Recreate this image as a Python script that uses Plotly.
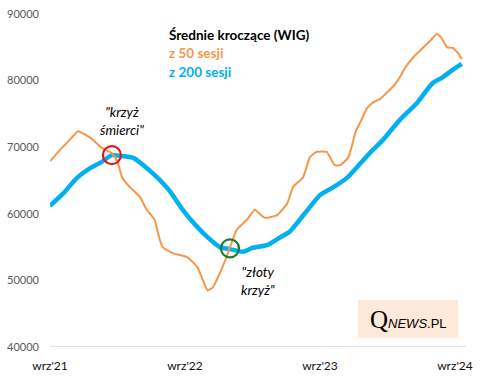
import plotly.graph_objects as go

# months since wrz'21 (Sept 2021)
months_50 = [0.0, 0.9, 1.7, 2.5, 3.0, 3.6, 4.6, 5.5, 6.0, 6.4, 7.1, 8.0, 8.6, 9.3, 9.6, 10.0,
             10.9, 12.2, 13.1, 13.6, 14.0, 14.5, 15.1, 15.6, 16.0, 16.6, 17.5, 18.2, 19.1,
             20.2, 21.1, 21.6, 22.5, 23.1, 23.7, 24.6, 25.3, 25.8, 26.5, 26.9, 27.2, 27.6,
             28.2, 28.8, 29.4, 30.0, 30.6, 31.2, 31.6, 32.3, 33.2, 33.8, 34.4, 34.8, 35.3,
             35.8, 36.3, 36.6]
wig_50 = [67900, 69600, 71000, 72400, 72000, 71400, 69900, 69100, 67800, 65500, 64000, 62500,
          60600, 59100, 57100, 55000, 54100, 53500, 52000, 50000, 48500, 49000, 51100, 53100,
          55000, 57600, 59100, 60600, 59400, 59800, 61600, 64000, 65500, 68500, 69300, 69300,
          67300, 67300, 68400, 70600, 72500, 73800, 75900, 76800, 77300, 78300, 79300, 80800,
          82000, 83500, 85000, 86000, 87000, 86400, 85000, 84900, 84100, 83200]

months_200 = [0.0, 1.2, 2.4, 3.6, 4.6, 5.5, 6.2, 7.4, 8.3, 9.5, 10.7, 11.8, 13.1, 14.0, 15.1,
              16.0, 17.2, 18.0, 19.3, 20.4, 21.3, 22.2, 23.1, 24.0, 25.2, 26.4, 27.6, 28.7,
              29.6, 31.1, 32.6, 34.0, 34.9, 35.8, 36.6]
wig_200 = [61200, 63100, 65400, 66900, 67800, 68800, 68700, 68400, 67300, 65500, 63300, 60600,
           58000, 56500, 55000, 54700, 54300, 54900, 55300, 56400, 57300, 59100, 61000, 62800,
           64000, 65400, 67600, 69600, 71100, 74100, 76600, 79600, 80500, 81600, 82500]

tick_months = [0, 12, 24, 36]
tick_labels = ["wrz'21", "wrz'22", "wrz'23", "wrz'24"]
y_ticks = [40000, 50000, 60000, 70000, 80000, 90000]

cross_months = [5.5, 16.0]
cross_values = [68800, 54800]
cross_colors = ["#e8161c", "#1e7b36"]

ORANGE = "#f79646"
BLUE = "#00b0f0"
FONT = "Lato"

fig = go.Figure()
fig.add_trace(go.Scatter(x=months_200, y=wig_200, mode="lines",
                         line=dict(color=BLUE, width=4.5, shape="spline", smoothing=0.6),
                         hoverinfo="skip"))
fig.add_trace(go.Scatter(x=months_50, y=wig_50, mode="lines",
                         line=dict(color=ORANGE, width=2, shape="spline", smoothing=0.4),
                         hoverinfo="skip"))
fig.add_trace(go.Scatter(x=cross_months, y=cross_values, mode="markers",
                         marker=dict(symbol="circle-open", size=18,
                                     line=dict(color=cross_colors, width=2.2),
                                     color=cross_colors),
                         hoverinfo="skip"))

fig.update_layout(
    width=480, height=380,
    margin=dict(l=50, r=14, t=14, b=33, autoexpand=False),
    paper_bgcolor="white", plot_bgcolor="white",
    showlegend=False,
    font=dict(family=FONT),
    xaxis=dict(range=[0, 36.98], tickvals=tick_months, ticktext=tick_labels,
               showgrid=False, zeroline=False, showline=False, ticks="",
               tickfont=dict(size=12, color="#111111", family=FONT),
               ticklabelstandoff=10, automargin=False),
    yaxis=dict(range=[40000, 90000], tickvals=y_ticks, showgrid=False,
               zeroline=False, showline=False, ticks="",
               tickfont=dict(size=11, color="#595959", family=FONT),
               ticklabelstandoff=10, tickformat="d", automargin=False),
    shapes=[dict(type="line", xref="paper", yref="y", x0=0, x1=1, y0=40000, y1=40000,
                 line=dict(color="#d9d9d9", width=1.5), layer="below"),
            dict(type="rect", xref="paper", yref="paper",
                 x0=(358 - 50) / 416, x1=(458 - 50) / 416,
                 y0=(347 - 338) / 333, y1=(347 - 300) / 333,
                 fillcolor="#fde9d9", line=dict(width=0), layer="below")],
    annotations=[
        dict(xref="paper", yref="paper", x=(167 - 50) / 416, y=(347 - 35) / 333,
             xanchor="left", yanchor="middle", showarrow=False,
             text="<b>Średnie kroczące (WIG)</b>", font=dict(size=13.5, color="#000000")),
        dict(xref="paper", yref="paper", x=(167 - 50) / 416, y=(347 - 53) / 333,
             xanchor="left", yanchor="middle", showarrow=False,
             text="<b>z 50 sesji</b>", font=dict(size=13.5, color=ORANGE)),
        dict(xref="paper", yref="paper", x=(167 - 50) / 416, y=(347 - 72) / 333,
             xanchor="left", yanchor="middle", showarrow=False,
             text="<b>z 200 sesji</b>", font=dict(size=13.5, color=BLUE)),
        dict(xref="paper", yref="paper", x=(122 - 50) / 416, y=(347 - 121) / 333,
             xanchor="center", yanchor="middle", showarrow=False,
             text="<i>\"krzyż<br>śmierci\"</i>", font=dict(size=13.5, color="#000000")),
        dict(xref="paper", yref="paper", x=(258 - 50) / 416, y=(347 - 281) / 333,
             xanchor="center", yanchor="middle", showarrow=False,
             text="<i>\"złoty<br>krzyż\"</i>", font=dict(size=13.5, color="#000000")),
        dict(xref="paper", yref="paper", x=(408 - 50) / 416, y=(347 - 319) / 333,
             xanchor="center", yanchor="middle", showarrow=False,
             text="<span style='font-size:25px;font-family:Liberation Serif'>Q</span>"
                  "<span style='font-size:13px'><i>NEWS</i>.PL</span>",
             font=dict(size=13, color="#000000", family="Liberation Sans")),
    ],
)

fig.write_html("out.html", config={"displayModeBar": False},
               post_script="document.body.style.margin='0';document.body.style.overflow='hidden';")
